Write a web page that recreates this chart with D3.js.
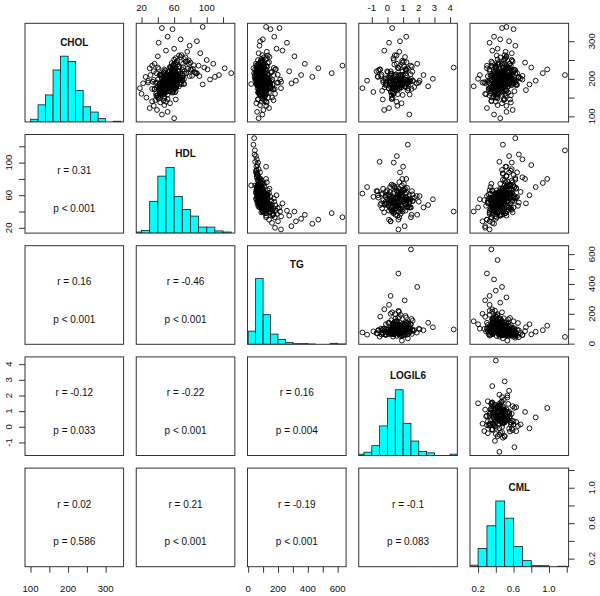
<!DOCTYPE html>
<html><head><meta charset="utf-8">
<script src="https://cdn.jsdelivr.net/npm/d3@7"></script>
<style>
body{margin:0;background:#fff}
text{font-family:"Liberation Sans",Arial,Helvetica,sans-serif;fill:#111}
</style>
</head><body>
<svg id="c" width="600" height="596"></svg>
<script>
// ---- data ----
const variables = ["CHOL","HDL","TG","LOGIL6","CML"];

const CHOL = [182,205,168,221,194,176,240,159,212,189,
147,199,231,186,172,208,195,163,218,201,
137,179,246,190,225,183,155,209,197,170,
262,188,214,176,203,192,128,235,181,199,
166,222,187,206,158,243,194,175,211,184,
198,150,227,191,272,169,204,186,217,178,
196,143,232,183,207,162,219,190,201,174,
253,188,211,167,198,180,225,156,195,236,
172,209,185,199,117,214,191,178,241,203,
186,164,220,193,288,177,206,152,229,197,
335,332,338,312,305,296,300,280,275,268,
215,228,210,240,198,225,230,185,205,250,
235,215,228,205,240,210,195,260,188,220,
230,200,180,210,175,195,165,220,190,205,
95,105,112,122,130,135,140,145,160,175,
150,190,180,200,210,195,215,185,170,225,
189,202,177,211,194,183,219,171,198,207,
186,193,214,180,201,188,223,174,196,209,
205,168,232,190,214,176,248,159,201,223,
185,197,263,172,210,183,139,227,194,206,
161,238,188,216,177,199,244,153,208,191,
173,219,186,257,165,203,229,181,196,142,
212,235,178,200,189,224,166,251,193,207,
174,218,185,242,157,202,179,226,195,168,
213,187,234,171,205,192,220,148,199,246,
182,210,163,228,190,215,175,203,258,184,
197,221,169,208,238,155,194,217,180,230,
188,202,173,225,196,164,211,249,186,207,
170,233,191,218,178,200,255,162,209,187,
226,193,146,215,182,240,198,176,222,189];

const HDL = [52,61,44,66,57,39,78,47,55,63,
41,49,71,58,36,82,53,45,60,68,
43,51,74,56,48,62,38,70,54,46,
66,59,87,42,51,64,35,59,55,72,
48,57,45,63,52,80,50,61,44,58,
67,40,62,54,76,49,56,69,53,47,
60,37,65,52,91,43,58,49,64,55,
72,46,61,53,40,66,57,45,59,84,
50,55,42,63,39,68,51,57,61,47,
72,50,54,60,79,44,65,48,56,62,
45,58,95,52,68,41,88,60,50,92,
130,122,115,108,104,101,97,95,110,100,
33,38,30,25,36,31,28,40,22,35,
40,55,48,45,62,70,58,65,52,60,
60,45,52,30,48,55,33,62,20,18,
26,28,40,45,55,70,75,60,50,80,
54,59,48,64,52,57,61,45,56,50,
63,47,58,53,66,50,60,42,55,62,
48,62,55,39,73,51,64,44,58,81,
47,35,69,56,42,60,50,77,53,66,
38,59,45,86,54,49,63,41,71,57,
33,65,52,74,46,61,58,43,68,47,
56,90,49,62,37,70,55,60,45,79,
52,48,64,57,40,67,54,83,46,59,
51,72,61,42,57,34,66,48,53,76,
50,44,58,62,47,88,53,60,68,41,
56,73,45,51,64,39,58,47,63,55,
49,70,36,59,52,61,43,78,54,46,
57,66,50,85,44,59,62,48,53,67,
41,56,52,63,46,71,55,60,49,58];

const TG = [76,118,92,54,103,146,67,81,129,88,
97,63,108,72,168,58,85,139,94,61,
124,79,96,53,181,70,113,87,66,101,
132,74,62,157,89,59,121,104,83,47,
110,91,127,68,76,84,141,63,198,95,
57,135,86,99,125,72,104,60,119,82,
93,170,65,78,55,112,98,134,71,106,
88,149,61,92,214,74,117,80,96,66,
115,73,163,51,102,79,126,90,107,138,
20,97,84,120,76,151,69,111,172,59,
210,150,120,175,98,260,80,190,230,70,
40,35,45,52,58,47,62,55,43,66,
632,560,470,430,380,355,320,310,290,275,
95,110,140,90,75,60,82,70,100,88,
70,95,60,140,80,55,120,65,180,220,
160,200,150,130,100,80,90,130,110,120,
91,84,102,76,111,68,95,124,79,101,
66,118,87,76,70,97,88,129,82,73,
93,71,128,145,66,102,87,118,59,74,
136,162,95,83,107,64,91,72,154,80,
123,99,77,57,112,86,140,97,62,119,
178,81,95,105,69,132,88,147,73,108,
96,54,124,78,193,67,90,116,101,63,
84,159,75,131,99,70,110,58,138,81,
92,61,121,104,87,221,76,94,115,83,
72,171,66,98,129,52,107,79,143,117,
85,69,126,93,103,88,74,152,68,109,
96,60,166,82,121,71,134,89,100,115,
77,94,108,63,141,86,125,80,98,72,
186,90,67,113,105,79,130,74,97,84];

const LOGIL6 = [0.12,0.87,-0.34,null,1.21,0.45,null,0.66,1.48,null,
0.28,-0.15,null,0.94,0.51,null,1.63,null,0.03,0.72,
null,0.39,1.05,null,-0.46,0.81,null,0.17,1.32,null,
0.58,1.87,null,0.24,null,-0.09,0.63,null,1.14,0.36,
null,-0.58,0.71,null,1.42,0.95,null,0.08,0.49,null,
1.01,0.33,null,-0.27,0.76,null,0.19,1.25,null,0.54,
0.89,null,1.56,-0.12,null,0.42,0.97,null,0.15,1.33,
null,0.61,-0.38,null,0.74,1.09,null,0.27,2.05,null,
0.46,1.18,null,0.83,-0.21,null,0.35,1.71,null,0.05,
0.92,null,0.21,1.38,null,0.57,-0.63,null,0.68,1.12,
0.3,null,null,1.2,null,0.1,0.8,null,-0.2,null,
null,1.3,null,0.6,null,-0.5,null,1.0,null,0.4,
1.5,null,0.7,null,1.9,null,0.2,null,1.1,null,
4.23,2.9,2.6,2.3,-1.6,-1.3,-0.9,-0.7,2.0,-0.6,
null,1.4,null,0.1,null,0.9,null,-0.3,null,0.7,
null,0.2,null,1.5,null,0.6,null,-0.1,null,1.2,
1.27,null,-0.18,0.86,null,0.31,1.59,null,0.64,-0.41,
null,0.52,1.16,null,0.93,-0.07,null,0.38,1.44,null,
0.71,null,1.08,null,0.26,null,0.94,null,-0.12,null,
1.33,null,0.47,null,0.82,null,0.58,null,1.61,null,
0.37,null,0.15,null,0.89,null,1.22,null,0.43,null,
0.76,null,1.02,null,0.21,null,0.68,null,-0.28,null,
0.55,null,1.17,null,0.84,null,0.32,null,1.46,null,
0.09,null,0.63,null,0.97,null,0.40,null,1.25,null,
0.19,null,0.77,null,0.51,null,-0.02,null,1.05,null,
0.66,null,0.29,null,0.91,null,0.35,null,1.12,null,
0.57,null,1.29,null,0.44,null,0.13,null,0.72,null,
0.86,null,1.54,null,0.48,null,0.99,null,0.24,null,
0.61,null,1.37,null,0.80,null,0.38,null,0.70,null,
1.15,null,0.27,null,0.92,null,0.53,null,1.19,null];

const CML = [0.38,0.55,0.47,0.33,0.61,0.42,0.50,0.29,0.44,0.58,
0.49,0.36,0.52,0.41,0.45,0.70,0.31,0.54,0.39,0.48,
0.57,0.43,0.35,0.62,0.40,0.46,0.51,0.34,0.59,0.45,
0.41,0.53,0.48,0.37,0.66,0.44,0.52,0.30,0.47,0.60,
0.35,0.50,0.43,0.56,0.39,0.73,0.46,0.32,0.42,0.64,
0.48,0.40,0.55,0.27,0.51,0.44,0.37,0.63,0.45,0.53,
0.42,0.49,0.36,0.58,0.47,0.34,0.55,0.40,0.68,0.43,
0.50,0.38,0.45,0.61,0.36,0.48,0.33,0.57,0.44,0.52,
0.46,0.35,0.54,0.41,0.59,0.47,0.31,0.49,0.43,0.65,
0.53,0.39,0.48,0.45,0.62,0.37,0.50,0.42,0.56,0.34,
0.47,0.60,0.52,0.38,0.45,0.33,0.55,0.42,0.36,0.58,
0.62,0.48,1.18,0.55,0.70,0.44,0.80,0.51,0.66,0.58,
0.35,0.42,0.30,0.38,0.47,0.40,0.33,0.52,0.28,0.45,
0.40,0.50,0.36,0.55,0.44,0.61,0.39,0.48,0.53,0.42,
0.45,0.38,0.52,0.30,0.42,0.47,0.35,0.56,0.28,0.33,
0.36,0.25,0.15,0.20,0.22,0.85,0.93,0.78,0.74,0.98,
0.44,0.57,0.36,0.49,0.41,0.63,0.46,0.39,0.52,0.31,
0.58,0.43,0.37,0.54,0.47,0.40,0.60,0.45,0.35,0.51,
0.46,0.52,0.39,0.43,0.57,0.35,0.49,0.41,0.55,0.62,
0.37,0.45,0.50,0.32,0.58,0.44,0.40,0.53,0.47,0.36,
0.51,0.42,0.60,0.48,0.34,0.56,0.43,0.38,0.54,0.46,
0.41,0.59,0.49,0.45,0.37,0.52,0.40,0.47,0.63,0.35,
0.50,0.57,0.44,0.39,0.33,0.61,0.46,0.42,0.54,0.48,
0.38,0.45,0.51,0.36,0.43,0.58,0.47,0.52,0.41,0.49,
0.44,0.56,0.40,0.35,0.53,0.39,0.47,0.42,0.50,0.59,
0.45,0.37,0.48,0.54,0.43,0.64,0.46,0.41,0.52,0.38,
0.49,0.55,0.42,0.47,0.44,0.33,0.57,0.46,0.51,0.40,
0.48,0.53,0.36,0.50,0.45,0.43,0.39,0.58,0.47,0.41,
0.52,0.49,0.44,0.60,0.37,0.46,0.51,0.42,0.48,0.55,
0.40,0.45,0.50,0.43,0.38,0.56,0.47,0.44,0.49,0.41];

// histogram breaks and bar heights (counts)
const breaksCHOL = [100,120,140,160,180,200,220,240,260,280,300,320,340];
const countsCHOL = [4,26,41,79,100,92,48,23,15,5,0,1];
const breaksHDL = [10,20,30,40,50,60,70,80,90,100,110,120,130];
const countsHDL = [2,5,58,104,120,67,43,31,11,11,4,2];
const breaksTG = [0,50,100,150,200,250,300,350,400,450,500,550,600,650];
const countsTG = [40,200,90,31,15,6,2,2,1,0,0,3,1];
const breaksLOGIL6 = [-2,-1.5,-1,-0.5,0,0.5,1,1.5,2,2.5,3,3.5,4,4.5];
const countsLOGIL6 = [2,5,15,45,87,100,49,22,6,4,0,0,2];
const breaksCML = [0.1,0.2,0.3,0.4,0.5,0.6,0.7,0.8,0.9,1.0,1.1,1.2];
const countsCML = [3,36,81,130,96,40,12,2,2,0,1];

// axis ticks and labels
const ticksCHOL = [100,150,200,250,300];      const labelsCHOL = ["100","200","300"];
const ticksHDL = [20,40,60,80,100,120];       const labelsHDL = ["20","60","100"];
const ticksTG = [0,100,200,300,400,500,600];  const labelsTG = ["0","200","400","600"];
const ticksLOGIL6 = [-1,0,1,2,3,4];           const labelsLOGIL6 = ["-1","0","1","2","3","4"];
const ticksCML = [0.2,0.4,0.6,0.8,1.0,1.2];   const labelsCML = ["0.2","0.6","1.0"];

// correlation annotations (lower panels), pair = [row, col]
const corrPairs = [[1,0],[2,0],[2,1],[3,0],[3,1],[3,2],[4,0],[4,1],[4,2],[4,3]];
const corrR = ["0.31","0.16","-0.46","-0.12","-0.22","0.16","0.02","0.21","-0.19","-0.1"];
const corrP = ["< 0.001","< 0.001","< 0.001","= 0.033","< 0.001","= 0.004","= 0.586","< 0.001","< 0.001","= 0.083"];

// ---- drawing ----
const cols = [CHOL, HDL, TG, LOGIL6, CML];
const breaks = [breaksCHOL, breaksHDL, breaksTG, breaksLOGIL6, breaksCML];
const counts = [countsCHOL, countsHDL, countsTG, countsLOGIL6, countsCML];
const ticks = [ticksCHOL, ticksHDL, ticksTG, ticksLOGIL6, ticksCML];
const labels = [labelsCHOL, labelsHDL, labelsTG, labelsLOGIL6, labelsCML];
const nv = variables.length;

const size = 98.6, stepX = 111.25, stepY = 111.2, x0 = 25, y0 = 23.3;
const tickLen = 6, tickFont = 9.6;

const domains = cols.map(a => {
  const [lo, hi] = d3.extent(a.filter(v => v != null));
  const pad = (hi - lo) * 0.04;
  return [lo - pad, hi + pad];
});

const svg = d3.select("#c");
const defs = svg.append("defs");

for (let i = 0; i < nv; i++) {
  for (let j = 0; j < nv; j++) {
    const px = x0 + j * stepX, py = y0 + i * stepY;
    const xs = d3.scaleLinear().domain(domains[j]).range([px, px + size]);
    const ys = d3.scaleLinear().domain(domains[i]).range([py + size, py]);
    const id = `cp${i}_${j}`;
    defs.append("clipPath").attr("id", id).append("rect")
      .attr("x", px).attr("y", py).attr("width", size).attr("height", size);
    const g = svg.append("g");
    const inner = g.append("g").attr("clip-path", `url(#${id})`);

    if (i === j) {
      const yh = d3.scaleLinear().domain([0, 1.5]).range([py + size, py]);
      const maxc = d3.max(counts[i]);
      const bins = counts[i].map((c, k) => ({x0: breaks[i][k], x1: breaks[i][k + 1], h: c / maxc}));
      inner.selectAll("rect.bar").data(bins.filter(b => b.h > 0)).join("rect")
        .attr("class", "bar")
        .attr("x", b => xs(b.x0)).attr("width", b => xs(b.x1) - xs(b.x0))
        .attr("y", b => yh(b.h)).attr("height", b => yh(0) - yh(b.h))
        .attr("fill", "#00ffff").attr("stroke", "#1a1a1a").attr("stroke-width", 0.8);
      g.append("text").attr("x", px + size / 2).attr("y", py + 22.4)
        .attr("text-anchor", "middle").attr("font-size", 10).attr("font-weight", "bold")
        .text(variables[i]);
    } else if (i < j) {
      const pts = cols[j].map((v, k) => [v, cols[i][k]]).filter(p => p[0] != null && p[1] != null);
      inner.selectAll("circle").data(pts).join("circle")
        .attr("cx", p => xs(p[0])).attr("cy", p => ys(p[1])).attr("r", 2.4)
        .attr("fill", "none").attr("stroke", "#000").attr("stroke-width", 0.9);
    } else {
      const k = corrPairs.findIndex(p => p[0] === i && p[1] === j);
      g.append("text").attr("x", px + size / 2).attr("y", py + 39.5)
        .attr("text-anchor", "middle").attr("font-size", 10).text("r = " + corrR[k]);
      g.append("text").attr("x", px + size / 2).attr("y", py + 77)
        .attr("text-anchor", "middle").attr("font-size", 10).text("p " + corrP[k]);
    }

    g.append("rect").attr("x", px).attr("y", py).attr("width", size).attr("height", size)
      .attr("fill", "none").attr("stroke", "#333").attr("stroke-width", 1);

    // axes
    const styleAxis = a => { a.select(".domain").remove(); a.selectAll(".tick line").attr("stroke", "#333"); a.selectAll(".tick text").remove(); };
    if (i === 0 && j % 2 === 1) {
      const a = svg.append("g").attr("transform", `translate(0,${py})`)
        .call(d3.axisTop(xs).tickValues(ticks[j]).tickSize(tickLen).tickSizeOuter(0));
      styleAxis(a);
      labels[j].forEach(s => svg.append("text").attr("x", xs(+s)).attr("y", py - 12.8)
        .attr("text-anchor", "middle").attr("font-size", tickFont).text(s));
    }
    if (i === nv - 1 && j % 2 === 0) {
      const a = svg.append("g").attr("transform", `translate(0,${py + size})`)
        .call(d3.axisBottom(xs).tickValues(ticks[j]).tickSize(tickLen).tickSizeOuter(0));
      styleAxis(a);
      labels[j].forEach(s => svg.append("text").attr("x", xs(+s)).attr("y", py + size + 25)
        .attr("text-anchor", "middle").attr("font-size", tickFont).text(s));
    }
    if (j === 0 && i % 2 === 1) {
      const a = svg.append("g").attr("transform", `translate(${px},0)`)
        .call(d3.axisLeft(ys).tickValues(ticks[i]).tickSize(tickLen).tickSizeOuter(0));
      styleAxis(a);
      labels[i].forEach(s => svg.append("text")
        .attr("transform", `translate(${px - 12.6},${ys(+s)}) rotate(-90)`)
        .attr("text-anchor", "middle").attr("font-size", tickFont).text(s));
    }
    if (j === nv - 1 && i % 2 === 0) {
      const a = svg.append("g").attr("transform", `translate(${px + size},0)`)
        .call(d3.axisRight(ys).tickValues(ticks[i]).tickSize(tickLen).tickSizeOuter(0));
      styleAxis(a);
      labels[i].forEach(s => svg.append("text")
        .attr("transform", `translate(${px + size + 26.8},${ys(+s)}) rotate(-90)`)
        .attr("text-anchor", "middle").attr("font-size", tickFont).text(s));
    }
  }
}
</script>
</body></html>
